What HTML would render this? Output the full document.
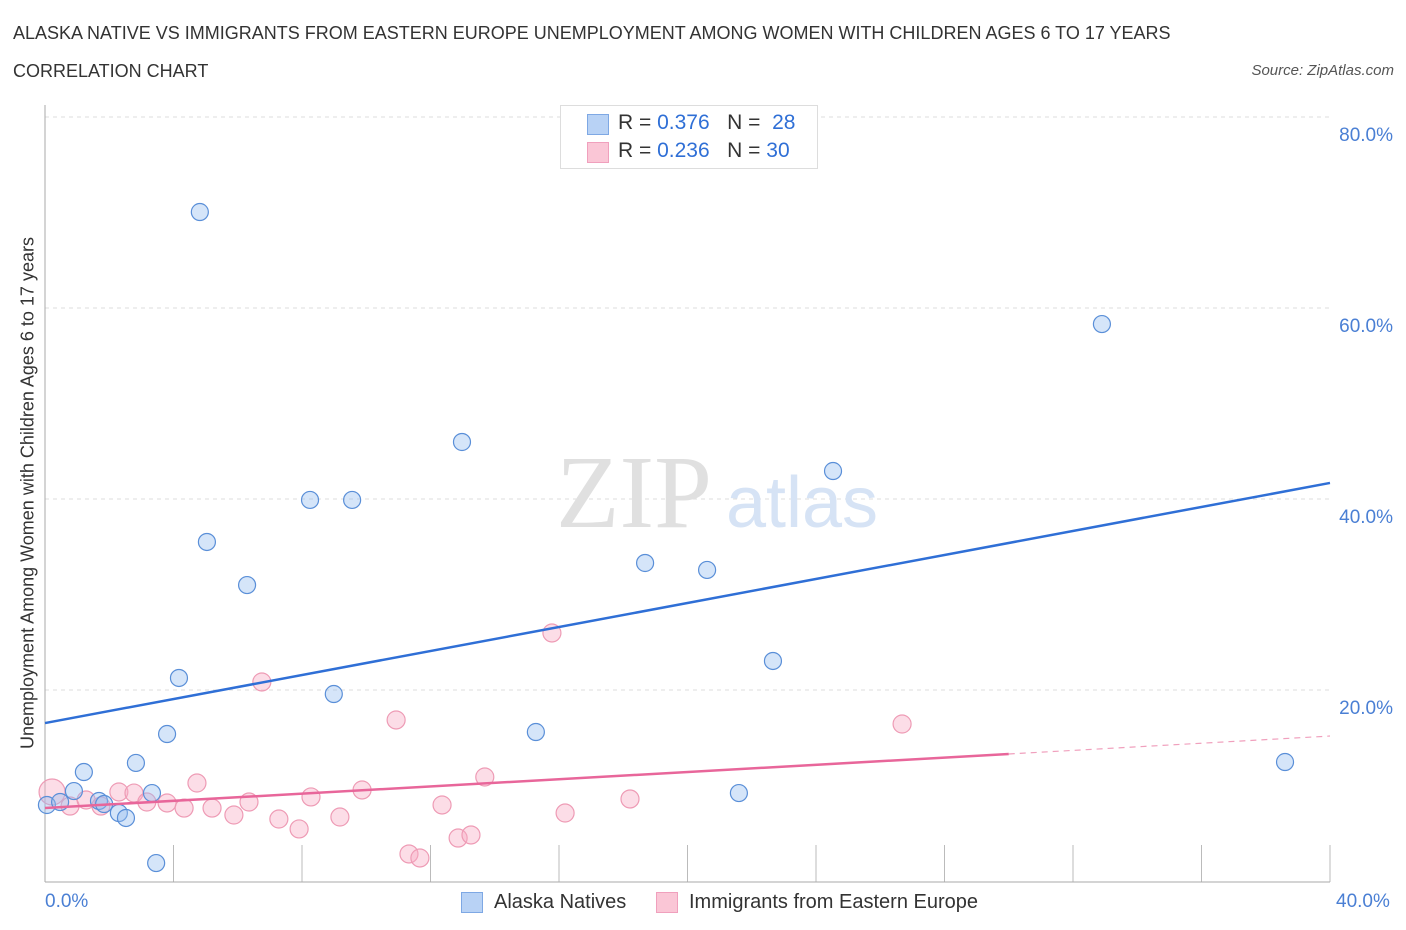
<!DOCTYPE html>
<html><head><meta charset="utf-8">
<style>
body{margin:0;background:#fff;font-family:"Liberation Sans",sans-serif;}
#wrap{position:relative;width:1406px;height:930px;overflow:hidden;}
.t{position:absolute;white-space:nowrap;}
</style></head>
<body>
<div id="wrap">
<div class="t" style="left:13px;top:23px;font-size:18px;color:#333;">ALASKA NATIVE VS IMMIGRANTS FROM EASTERN EUROPE UNEMPLOYMENT AMONG WOMEN WITH CHILDREN AGES 6 TO 17 YEARS</div>
<div class="t" style="left:13px;top:61px;font-size:18px;color:#333;">CORRELATION CHART</div>
<div class="t" style="right:12px;top:62px;font-size:15px;color:#555;font-style:italic;">Source: ZipAtlas.com</div>
<svg id="chart" width="1406" height="930" style="position:absolute;left:0;top:0"></svg>
</div>
<script>
const blueX=[0.06,0.47,0.90,1.21,1.68,1.84,2.30,2.52,2.83,3.33,3.46,3.80,4.17,4.82,5.04,6.29,8.25,8.99,9.56,12.98,15.28,18.68,20.61,21.60,22.66,24.53,32.90,38.60];
const blueY=[7.96,8.27,9.42,11.41,8.38,8.06,7.12,6.60,12.36,9.21,1.88,15.39,21.26,70.05,35.50,30.99,39.90,19.58,39.90,45.97,15.60,33.30,32.57,9.21,23.04,42.93,58.32,12.46];
const pinkX=[0.22,0.78,1.28,1.74,2.30,2.77,3.17,3.80,4.33,4.73,5.20,5.88,6.35,6.75,7.28,7.91,8.28,9.18,9.87,10.93,11.33,11.67,12.36,12.86,13.26,13.69,15.78,16.19,18.21,26.68];
const pinkY=[9.32,7.85,8.48,7.85,9.32,9.21,8.27,8.17,7.64,10.26,7.64,6.91,8.27,20.84,6.49,5.45,8.80,6.70,9.53,16.86,2.83,2.41,7.96,4.50,4.82,10.89,25.97,7.12,8.59,16.44];
const blueTrend=[16.54,41.68];
const pinkTrend=[7.64,13.30,15.18];
const yTicks=[20,40,60,80];
const yTickLabels=["20.0%","40.0%","60.0%","80.0%"];
const xTicks=[0,4,8,12,16,20,24,28,32,36,40];

const svg=document.getElementById('chart');
const NS='http://www.w3.org/2000/svg';
const X=v=>45+v*1285/40;
const Y=v=>881-v*191/20;
function mk(tag,attrs,parent){const e=document.createElementNS(NS,tag);for(const k in attrs)e.setAttribute(k,attrs[k]);(parent||svg).appendChild(e);return e;}

yTicks.forEach((v,i)=>{
 const g=mk('line',{x1:45,x2:1330,y1:Y(v),y2:Y(v),stroke:'#ddd','stroke-dasharray':'4,4'});
 
 
 const t=mk('text',{x:1393,y:Y(v)+24,'text-anchor':'end','font-size':19,fill:'#4a7fd4','font-family':'Liberation Sans, sans-serif'});
 t.textContent=yTickLabels[i];
 
 
});
xTicks.forEach(v=>{if(v===0)return;
 const tk=mk('line',{x1:X(v),x2:X(v),y1:845,y2:882,stroke:'#bbb'});
 
 
});
const ya=mk('line',{x1:45,x2:45,y1:105,y2:882,stroke:'#aaa'});


const xa=mk('line',{x1:45,x2:1330,y1:882,y2:882,stroke:'#aaa'});



const w1=mk('text',{x:634,y:527,'text-anchor':'middle','font-size':104,fill:'#e0e0e0','font-family':'Liberation Serif, serif'});
w1.textContent='ZIP';


const w2=mk('text',{x:802,y:527,'text-anchor':'middle','font-size':72,fill:'#d6e3f5','font-family':'Liberation Sans, sans-serif'});
w2.textContent='atlas';



pinkX.forEach((x,i)=>{
 const c=mk('circle',{cx:X(x),cy:Y(pinkY[i]),r:i===0?13:9,fill:'rgba(247,170,195,0.4)',stroke:'#ee9bb5','stroke-width':1.2});
 
 
});
blueX.forEach((x,i)=>{
 const c=mk('circle',{cx:X(x),cy:Y(blueY[i]),r:8.5,fill:'rgba(150,190,240,0.4)',stroke:'#5a8fd8','stroke-width':1.2});
 
 
});
const bt=mk('line',{x1:X(0),y1:Y(blueTrend[0]),x2:X(40),y2:Y(blueTrend[1]),stroke:'#2f6fd6','stroke-width':2.5});


const pt=mk('line',{x1:X(0),y1:Y(pinkTrend[0]),x2:X(30),y2:Y(pinkTrend[1]),stroke:'#e8669a','stroke-width':2.5});


const pd=mk('line',{x1:X(30),y1:Y(pinkTrend[1]),x2:X(40),y2:Y(pinkTrend[2]),stroke:'#f0a0bd','stroke-width':1.2,'stroke-dasharray':'6,5'});


</script>
<div class="t" style="left:45px;top:891px;font-size:19px;color:#4a7fd4;">0.0%</div>
<div class="t" style="left:1336px;top:891px;font-size:19px;color:#4a7fd4;">40.0%</div>
<div class="t" style="left:28px;top:493px;font-size:18px;color:#333;transform:translate(-50%,-50%) rotate(-90deg);">Unemployment Among Women with Children Ages 6 to 17 years</div>
<div style="position:absolute;left:560px;top:105px;width:256px;height:62px;border:1px solid #ddd;background:#fff;font-size:21px;color:#333;">
 <div style="position:absolute;left:26px;top:8px;width:20px;height:19px;background:#b8d2f5;border:1px solid #7ea8e4;"></div>
 <div class="t" style="left:57px;top:5px;">R = <span style="color:#2f6fd6">0.376</span>&nbsp;&nbsp;&nbsp;N = &nbsp;<span style="color:#2f6fd6">28</span></div>
 <div style="position:absolute;left:26px;top:36px;width:20px;height:19px;background:#fac6d6;border:1px solid #f0a0bd;"></div>
 <div class="t" style="left:57px;top:33px;">R = <span style="color:#2f6fd6">0.236</span>&nbsp;&nbsp;&nbsp;N = <span style="color:#2f6fd6">30</span></div>
</div>
<div style="position:absolute;left:461px;top:891px;font-size:20px;color:#333;">
 <div style="position:absolute;left:0;top:1px;width:20px;height:19px;background:#b8d2f5;border:1px solid #7ea8e4;"></div>
 <div class="t" style="left:33px;top:0;">Alaska Natives</div>
</div>
<div style="position:absolute;left:656px;top:891px;font-size:20px;color:#333;">
 <div style="position:absolute;left:0;top:1px;width:20px;height:19px;background:#fac6d6;border:1px solid #f0a0bd;"></div>
 <div class="t" style="left:33px;top:0;">Immigrants from Eastern Europe</div>
</div>
</body></html>
